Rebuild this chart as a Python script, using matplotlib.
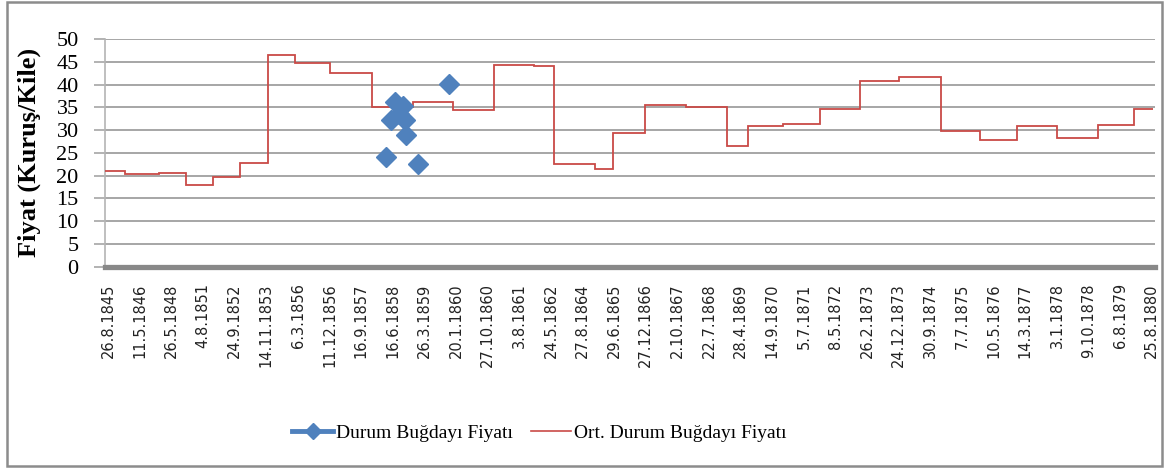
import matplotlib
matplotlib.use("Agg")
import matplotlib.pyplot as plt
from matplotlib.lines import Line2D
from matplotlib.patches import Rectangle

# ---- data (x in units of tick-label index) ----
tick_labels = ["26.8.1845", "11.5.1846", "26.5.1848", "4.8.1851", "24.9.1852",
               "14.11.1853", "6.3.1856", "11.12.1856", "16.9.1857", "16.6.1858",
               "26.3.1859", "20.1.1860", "27.10.1860", "3.8.1861", "24.5.1862",
               "27.8.1864", "29.6.1865", "27.12.1866", "2.10.1867", "22.7.1868",
               "28.4.1869", "14.9.1870", "5.7.1871", "8.5.1872", "26.2.1873",
               "24.12.1873", "30.9.1874", "7.7.1875", "10.5.1876", "14.3.1877",
               "3.1.1878", "9.10.1878", "6.8.1879", "25.8.1880"]

avg_edges = [-0.1, 0.53, 1.59, 2.45, 3.30, 4.15, 5.04, 5.90, 7.00, 8.33,
             9.65, 10.90, 12.20, 13.46, 14.08, 15.39, 15.97, 16.97, 18.26,
             19.56, 20.22, 21.35, 22.51, 23.78, 25.02, 26.33, 27.57, 28.75,
             30.00, 31.30, 32.44, 33.04]
avg_values = [21.1, 20.3, 20.6, 18.0, 19.8, 22.7, 46.5, 44.8, 42.6, 35.1,
              36.1, 34.4, 44.4, 44.1, 22.55, 21.4, 29.4, 35.4, 35.1, 26.5,
              30.9, 31.3, 34.6, 40.8, 41.7, 29.9, 27.8, 30.9, 28.2, 31.2, 34.6]

price_x = [8.77, 8.94, 9.07, 9.19, 9.32, 9.38, 9.42, 9.79, 10.78]
price_y = [24.1, 32.2, 36.2, 33.5, 35.3, 32.2, 29.0, 22.6, 40.2]

BLUE = "#4f81bd"
RED = "#c94a47"
GRID = "#a6a6a6"

fig = plt.figure(figsize=(11.68, 4.70), dpi=100)
ax = fig.add_axes([105/1168, 1-266.7/470, 1050/1168, (266.7-39)/470])

ax.set_xlim(-0.104, 33.1)
ax.set_ylim(0, 50)
ax.set_yticks(range(0, 51, 5))
ax.grid(axis="y", color=GRID, linewidth=1.4)
ax.set_axisbelow(True)

ax.stairs(avg_values, avg_edges, baseline=None, color=RED, linewidth=1.3, zorder=3)
ax.plot(price_x, price_y, linestyle="none", marker="D", markersize=10,
        color=BLUE, markeredgecolor=BLUE, zorder=4)

# axes styling
for s in ["top", "right", "bottom"]:
    ax.spines[s].set_visible(False)
ax.spines["left"].set_color("#b4b4b4")
ax.spines["left"].set_linewidth(1.2)
ax.axhline(0, color="#888888", linewidth=3.8, zorder=5, clip_on=False)

ax.tick_params(axis="y", length=8, width=1.2, color=GRID, pad=11,
               labelsize=16)
for t in ax.get_yticklabels():
    t.set_fontfamily("Liberation Serif")

ax.set_xticks(range(len(tick_labels)))
ax.set_xticklabels(tick_labels, rotation=90, fontsize=10.5,
                   fontfamily="DejaVu Sans", color="#222222")
ax.tick_params(axis="x", length=0, pad=12)

ax.set_ylabel("Fiyat (Kuruş/Kile)", fontsize=19, fontweight="bold",
              fontfamily="Liberation Serif")
ax.yaxis.set_label_coords(-0.061, 0.5)

handles = [Line2D([], [], color=BLUE, linewidth=3.5, marker="D", markersize=8),
           Line2D([], [], color=RED, linewidth=1.2)]
fig.legend(handles, ["Durum Buğdayı Fiyatı", "Ort. Durum Buğdayı Fiyatı"],
           loc="center", bbox_to_anchor=(0.462, 0.079), ncol=2, frameon=False,
           prop={"family": "Liberation Serif", "size": 14},
           handlelength=2.1, handletextpad=0.15, columnspacing=0.9)

fig.patches.append(Rectangle((7/1168, 4/470), 1155/1168, 464/470,
                             transform=fig.transFigure, fill=False,
                             edgecolor="#8c8c8c", linewidth=1.8))

fig.savefig("out.png", dpi=100)
